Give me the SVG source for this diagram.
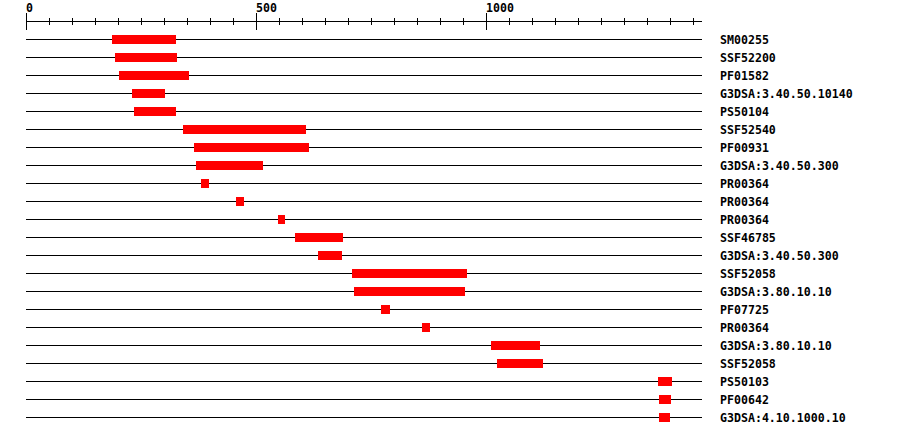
<svg xmlns="http://www.w3.org/2000/svg" width="900" height="436" viewBox="0 0 900 436">
<style>
.ln{stroke:#000;stroke-width:1;shape-rendering:crispEdges}
.bar{fill:#ff0000;shape-rendering:crispEdges}
.t{font-family:"DejaVu Sans Mono","Liberation Mono",monospace;font-weight:bold;font-size:11.6px;fill:#000}
</style>
<rect width="900" height="436" fill="#fff"/>
<g id="ruler">
<line class="ln" x1="26" y1="21.5" x2="702" y2="21.5"/>
<path class="ln" fill="none" d="M26.5 13V30M256.5 13V30M486.5 13V30M49.5 18V25M72.5 18V25M95.5 18V25M118.5 18V25M141.5 18V25M164.5 18V25M187.5 18V25M210.5 18V25M233.5 18V25M279.5 18V25M302.5 18V25M325.5 18V25M348.5 18V25M371.5 18V25M394.5 18V25M417.5 18V25M440.5 18V25M463.5 18V25M509.5 18V25M532.5 18V25M555.5 18V25M578.5 18V25M601.5 18V25M624.5 18V25M647.5 18V25M670.5 18V25M693.5 18V25"/>
<text class="t" x="26" y="12">0</text>
<text class="t" x="256" y="12">500</text>
<text class="t" x="486" y="12">1000</text>
</g>
<g id="row1"><line class="ln" x1="26" y1="39.5" x2="702" y2="39.5"/><rect class="bar" x="112" y="35" width="64" height="9"/><text class="t" x="720" y="44">SM00255</text></g>
<g id="row2"><line class="ln" x1="26" y1="57.5" x2="702" y2="57.5"/><rect class="bar" x="115" y="53" width="62" height="9"/><text class="t" x="720" y="62">SSF52200</text></g>
<g id="row3"><line class="ln" x1="26" y1="75.5" x2="702" y2="75.5"/><rect class="bar" x="119" y="71" width="70" height="9"/><text class="t" x="720" y="80">PF01582</text></g>
<g id="row4"><line class="ln" x1="26" y1="93.5" x2="702" y2="93.5"/><rect class="bar" x="132" y="89" width="33" height="9"/><text class="t" x="720" y="98">G3DSA:3.40.50.10140</text></g>
<g id="row5"><line class="ln" x1="26" y1="111.5" x2="702" y2="111.5"/><rect class="bar" x="134" y="107" width="42" height="9"/><text class="t" x="720" y="116">PS50104</text></g>
<g id="row6"><line class="ln" x1="26" y1="129.5" x2="702" y2="129.5"/><rect class="bar" x="183" y="125" width="123" height="9"/><text class="t" x="720" y="134">SSF52540</text></g>
<g id="row7"><line class="ln" x1="26" y1="147.5" x2="702" y2="147.5"/><rect class="bar" x="194" y="143" width="115" height="9"/><text class="t" x="720" y="152">PF00931</text></g>
<g id="row8"><line class="ln" x1="26" y1="165.5" x2="702" y2="165.5"/><rect class="bar" x="196" y="161" width="67" height="9"/><text class="t" x="720" y="170">G3DSA:3.40.50.300</text></g>
<g id="row9"><line class="ln" x1="26" y1="183.5" x2="702" y2="183.5"/><rect class="bar" x="201" y="179" width="8" height="9"/><text class="t" x="720" y="188">PR00364</text></g>
<g id="row10"><line class="ln" x1="26" y1="201.5" x2="702" y2="201.5"/><rect class="bar" x="236" y="197" width="8" height="9"/><text class="t" x="720" y="206">PR00364</text></g>
<g id="row11"><line class="ln" x1="26" y1="219.5" x2="702" y2="219.5"/><rect class="bar" x="278" y="215" width="7" height="9"/><text class="t" x="720" y="224">PR00364</text></g>
<g id="row12"><line class="ln" x1="26" y1="237.5" x2="702" y2="237.5"/><rect class="bar" x="295" y="233" width="48" height="9"/><text class="t" x="720" y="242">SSF46785</text></g>
<g id="row13"><line class="ln" x1="26" y1="255.5" x2="702" y2="255.5"/><rect class="bar" x="318" y="251" width="24" height="9"/><text class="t" x="720" y="260">G3DSA:3.40.50.300</text></g>
<g id="row14"><line class="ln" x1="26" y1="273.5" x2="702" y2="273.5"/><rect class="bar" x="352" y="269" width="115" height="9"/><text class="t" x="720" y="278">SSF52058</text></g>
<g id="row15"><line class="ln" x1="26" y1="291.5" x2="702" y2="291.5"/><rect class="bar" x="354" y="287" width="111" height="9"/><text class="t" x="720" y="296">G3DSA:3.80.10.10</text></g>
<g id="row16"><line class="ln" x1="26" y1="309.5" x2="702" y2="309.5"/><rect class="bar" x="381" y="305" width="9" height="9"/><text class="t" x="720" y="314">PF07725</text></g>
<g id="row17"><line class="ln" x1="26" y1="327.5" x2="702" y2="327.5"/><rect class="bar" x="422" y="323" width="8" height="9"/><text class="t" x="720" y="332">PR00364</text></g>
<g id="row18"><line class="ln" x1="26" y1="345.5" x2="702" y2="345.5"/><rect class="bar" x="491" y="341" width="49" height="9"/><text class="t" x="720" y="350">G3DSA:3.80.10.10</text></g>
<g id="row19"><line class="ln" x1="26" y1="363.5" x2="702" y2="363.5"/><rect class="bar" x="497" y="359" width="46" height="9"/><text class="t" x="720" y="368">SSF52058</text></g>
<g id="row20"><line class="ln" x1="26" y1="381.5" x2="702" y2="381.5"/><rect class="bar" x="658" y="377" width="14" height="9"/><text class="t" x="720" y="386">PS50103</text></g>
<g id="row21"><line class="ln" x1="26" y1="399.5" x2="702" y2="399.5"/><rect class="bar" x="659" y="395" width="12" height="9"/><text class="t" x="720" y="404">PF00642</text></g>
<g id="row22"><line class="ln" x1="26" y1="417.5" x2="702" y2="417.5"/><rect class="bar" x="659" y="413" width="11" height="9"/><text class="t" x="720" y="422">G3DSA:4.10.1000.10</text></g>
</svg>
